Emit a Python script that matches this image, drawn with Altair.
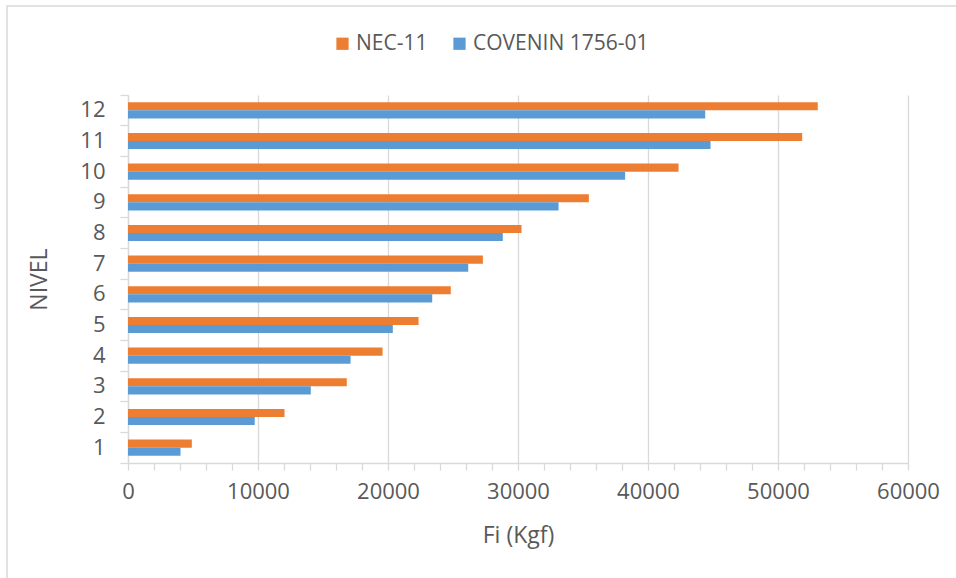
import altair as alt
import pandas as pd

levels = [str(i) for i in range(1, 13)]
nec_11 = [4910, 12040, 16830, 19580, 22350, 24830, 27300, 30270, 35450, 42350, 51860, 53060]
covenin = [4040, 9750, 14060, 17120, 20370, 23400, 26170, 28830, 33120, 38240, 44810, 44400]
series = ["NEC-11", "COVENIN 1756-01"]
colors = ["#ED7D31", "#5B9BD5"]
x_ticks = list(range(0, 60001, 2000))

rows = []
for lv, a, b in zip(levels, nec_11, covenin):
    rows.append({"nivel": lv, "serie": series[0], "fi": a})
    rows.append({"nivel": lv, "serie": series[1], "fi": b})
df = pd.DataFrame(rows)

FONT = "Open Sans"
TXT = "#595959"
GRID = "#d9d9d9"

bars = alt.Chart(df).mark_bar().encode(
    x=alt.X(
        "fi:Q",
        title="Fi (Kgf)",
        scale=alt.Scale(domain=[0, 60000], nice=False),
        axis=alt.Axis(
            values=x_ticks,
            format="d",
            labelExpr="datum.value % 10000 === 0 ? datum.label : ''",
            labelOverlap=False,
            labelFlush=False,
            grid=True,
            gridColor=GRID,
            gridWidth=1.3,
            gridOpacity={"condition": {"test": "datum.value % 10000 === 0", "value": 1}, "value": 0},
            domainColor=GRID,
            domainWidth=1.3,
            tickColor=GRID,
            tickSize=7,
            tickWidth=1.3,
            labelPadding=11,
            titlePadding=22,
        ),
    ),
    y=alt.Y(
        "nivel:N",
        title="NIVEL",
        sort=levels[::-1],
        scale=alt.Scale(paddingInner=0, paddingOuter=0),
        axis=alt.Axis(
            bandPosition=1,
            tickExtra=True,
            grid=False,
            domainColor=GRID,
            domainWidth=1.3,
            tickColor=GRID,
            tickSize=8,
            tickWidth=1.3,
            labelPadding=15,
            titlePadding=28,
        ),
    ),
    yOffset=alt.YOffset(
        "serie:N",
        sort=series,
        scale=alt.Scale(paddingInner=0, paddingOuter=0.9),
    ),
    color=alt.Color(
        "serie:N",
        sort=series,
        scale=alt.Scale(domain=series, range=colors),
        legend=alt.Legend(
            title=None,
            orient="none",
            direction="horizontal",
            legendX=204,
            legendY=-62,
            symbolType="square",
            symbolSize=150,
            symbolStrokeWidth=0,
            labelFontSize=21,
            labelFont=FONT,
            labelColor=TXT,
            labelOffset=3,
            labelLimit=0,
            columnPadding=21,
            padding=0,
        ),
    ),
)

frame = alt.Chart(alt.Data(values=[{"a": 1}])).mark_rect(
    fill=None, stroke=GRID, strokeWidth=1.5
).encode(
    x=alt.value(-121), x2=alt.value(860), y=alt.value(-89), y2=alt.value(520)
)

chart = alt.layer(frame, bars).properties(
    width=780,
    height=368,
    autosize=alt.AutoSizeParams(type="none"),
    padding={"left": 128, "top": 95, "right": 48, "bottom": 115},
).configure_view(stroke=None).configure_axis(
    labelFont=FONT,
    labelFontSize=22,
    labelColor=TXT,
    titleFont=FONT,
    titleFontSize=23,
    titleColor=TXT,
    titleFontWeight="normal",
)

chart.save("out.html", embed_options={"renderer": "svg", "actions": False})
